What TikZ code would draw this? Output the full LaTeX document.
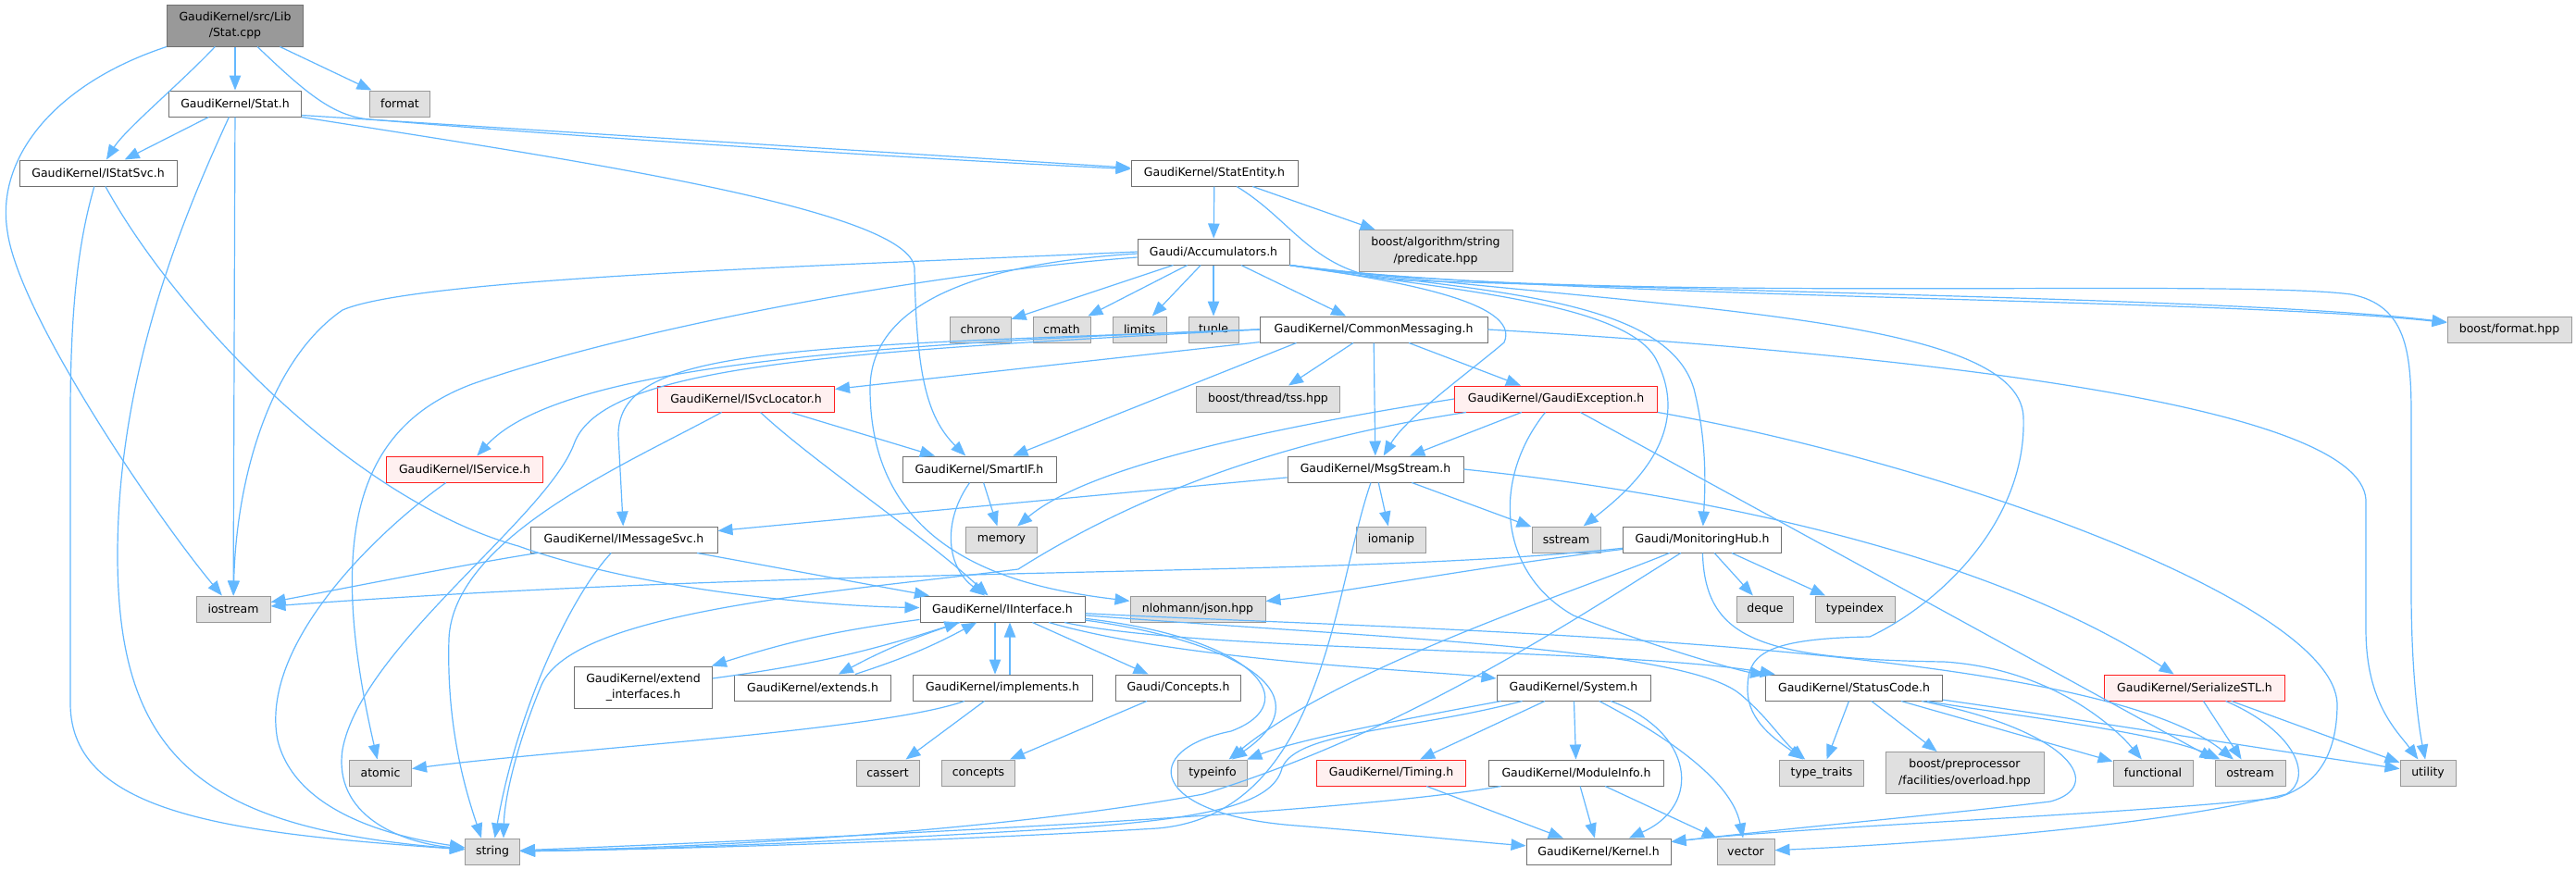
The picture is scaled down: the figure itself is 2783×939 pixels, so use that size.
\documentclass[tikz,border=0pt]{standalone}
\usepackage{fontspec}
\setmainfont{DejaVu Sans}
\usetikzlibrary{arrows.meta,calc}
\definecolor{edgec}{HTML}{63B8FF}
\definecolor{ndborder}{HTML}{707070}
\definecolor{extborder}{HTML}{999999}
\definecolor{extfill}{HTML}{E0E0E0}
\definecolor{redfill}{HTML}{FFF0F0}
\definecolor{redborder}{HTML}{FF2020}
\definecolor{rootfill}{HTML}{999999}
\begin{document}
\begin{tikzpicture}[x=0.5pt,y=-0.5pt,
  every node/.style={font=\fontsize{6.25pt}{8.65pt}\selectfont, inner xsep=2pt, inner ysep=0pt,
    minimum height=14pt, line width=0.5pt, text=black, align=center},
  nd/.style={draw=ndborder, fill=white},
  ext/.style={draw=extborder, fill=extfill},
  redn/.style={draw=redborder, fill=redfill},
  rootn/.style={draw=ndborder, fill=rootfill},
  tall/.style={minimum height=22.5pt},
  edge/.style={draw=edgec, line width=0.6pt, -{Triangle[length=8pt,width=6.2pt]}}]
\useasboundingbox (0,0) rectangle (2783,939);
\fill[white] (0,0) rectangle (2783,939);

% ---------------- nodes ----------------
\node[rootn, tall, minimum width=73.5pt] (statcpp) at (254,27.5) {GaudiKernel/src/Lib\\/Stat.cpp};
\node[nd, minimum width=71.5pt] (stath) at (254,112) {GaudiKernel/Stat.h};
\node[ext, minimum width=32.5pt] (format) at (432,112) {format};
\node[nd, minimum width=85pt] (istatsvc) at (106,187) {GaudiKernel/IStatSvc.h};
\node[nd, minimum width=90pt] (statentity) at (1312,187) {GaudiKernel/StatEntity.h};
\node[nd, minimum width=82pt] (accum) at (1311,272) {Gaudi/Accumulators.h};
\node[ext, tall, minimum width=83pt] (predicate) at (1551,271) {boost/algorithm/string\\/predicate.hpp};
\node[ext, minimum width=67pt] (bformat) at (2711,356) {boost/format.hpp};
\node[ext, minimum width=33pt] (chrono) at (1059,356) {chrono};
\node[ext, minimum width=31pt] (cmath) at (1147,356) {cmath};
\node[ext, minimum width=29pt] (limits) at (1231,356) {limits};
\node[ext, minimum width=27pt] (tuple) at (1311,356) {tuple};
\node[nd, minimum width=123pt] (commsg) at (1484,356) {GaudiKernel/CommonMessaging.h};
\node[redn, minimum width=95.5pt] (isvcloc) at (806,431) {GaudiKernel/ISvcLocator.h};
\node[ext, minimum width=77.5pt] (tss) at (1370,431) {boost/thread/tss.hpp};
\node[redn, minimum width=109.5pt] (gexc) at (1681,431) {GaudiKernel/GaudiException.h};
\node[redn, minimum width=84.5pt] (iservice) at (502,507) {GaudiKernel/IService.h};
\node[nd, minimum width=83pt] (smartif) at (1058,507) {GaudiKernel/SmartIF.h};
\node[nd, minimum width=95pt] (msgstream) at (1486,507) {GaudiKernel/MsgStream.h};
\node[nd, minimum width=101pt] (imsgsvc) at (674,583) {GaudiKernel/IMessageSvc.h};
\node[ext, minimum width=38.5pt] (memory) at (1082,583) {memory};
\node[ext, minimum width=37.5pt] (iomanip) at (1503,583) {iomanip};
\node[ext, minimum width=37pt] (sstream) at (1692,583) {sstream};
\node[nd, minimum width=85.5pt] (monhub) at (1839,583) {Gaudi/MonitoringHub.h};
\node[ext, minimum width=40pt] (iostream) at (252,658) {iostream};
\node[nd, minimum width=89pt] (iinterface) at (1083,658) {GaudiKernel/IInterface.h};
\node[ext, minimum width=73pt] (json) at (1294,658) {nlohmann/json.hpp};
\node[ext, minimum width=30.5pt] (deque) at (1907,658) {deque};
\node[ext, minimum width=43pt] (typeindex) at (2004,658) {typeindex};
\node[nd, tall, minimum width=74.5pt] (extendif) at (695,742.5) {GaudiKernel/extend\\\_interfaces.h};
\node[nd, minimum width=84.5pt] (extends) at (878,743) {GaudiKernel/extends.h};
\node[nd, minimum width=97pt] (implements) at (1083,743) {GaudiKernel/implements.h};
\node[nd, minimum width=67.5pt] (conceptsh) at (1273,743) {Gaudi/Concepts.h};
\node[nd, minimum width=83pt] (system) at (1700,743) {GaudiKernel/System.h};
\node[nd, minimum width=95.5pt] (statuscode) at (2003,743) {GaudiKernel/StatusCode.h};
\node[redn, minimum width=97.5pt] (serialize) at (2371,743) {GaudiKernel/SerializeSTL.h};
\node[ext, minimum width=33.5pt] (atomic) at (411,835) {atomic};
\node[ext, minimum width=34pt] (cassert) at (959,835) {cassert};
\node[ext, minimum width=39.5pt] (conceptsx) at (1057,835) {concepts};
\node[ext, minimum width=37.5pt] (typeinfo) at (1310,835) {typeinfo};
\node[redn, minimum width=80.5pt] (timing) at (1503,835) {GaudiKernel/Timing.h};
\node[nd, minimum width=94.5pt] (moduleinfo) at (1703,835) {GaudiKernel/ModuleInfo.h};
\node[ext, minimum width=45.5pt] (typetraits) at (1968,835) {type\_traits};
\node[ext, tall, minimum width=85.5pt] (overload) at (2122.5,835) {boost/preprocessor\\/facilities/overload.hpp};
\node[ext, minimum width=43pt] (functional) at (2326,835) {functional};
\node[ext, minimum width=38pt] (ostream) at (2431,835) {ostream};
\node[ext, minimum width=30pt] (utility) at (2623,835) {utility};
\node[ext, minimum width=29.5pt] (string) at (532,920) {string};
\node[nd, minimum width=78pt] (kernel) at (1727,920) {GaudiKernel/Kernel.h};
\node[ext, minimum width=31pt] (vector) at (1886,920) {vector};

% ---------------- edges ----------------
% Stat.cpp
\draw[edge] (statcpp) -- (stath);
\draw[edge] (statcpp) -- (format);
\draw[edge] (statcpp) .. controls (195,90) and (135,140) .. (istatsvc);
\draw[edge] (statcpp.south west) .. controls (60,90) and (-5,170) .. (8,250) .. controls (20,340) and (170,560) .. (iostream);
\draw[edge] (statcpp) .. controls (330,100) and (360,126) .. (400,129) .. controls (650,150) and (1000,172) .. (statentity);
% Stat.h
\draw[edge] ($(stath.south east)+(0,-2)$) -- (statentity);
\draw[edge] (stath.south east) .. controls (600,170) and (985,225) .. (988,290) .. controls (990,400) and (1000,450) .. (smartif);
\draw[edge] (stath) -- (istatsvc);
\draw[edge] (stath) .. controls (200,230) and (127,400) .. (127,600) .. controls (127,820) and (220,895) .. (string);
\draw[edge] (stath) -- (iostream);
% IStatSvc
\draw[edge] (istatsvc) .. controls (85,260) and (76,330) .. (76,450) -- (76,760) .. controls (76,880) and (250,900) .. (string);
\draw[edge] (istatsvc) .. controls (190,340) and (380,540) .. (560,590) .. controls (700,640) and (900,655) .. (iinterface);
% StatEntity
\draw[edge] (statentity) -- (accum);
\draw[edge] (statentity) -- (predicate);
\draw[edge] (statentity) .. controls (1400,240) and (1420,300) .. (1520,303) .. controls (2000,318) and (2450,325) .. (bformat);
% Accumulators
\draw[edge] (accum) -- (chrono);
\draw[edge] (accum) -- (cmath);
\draw[edge] (accum) -- (limits);
\draw[edge] (accum) -- (tuple);
\draw[edge] (accum) -- (commsg);
\draw[edge] (accum.west) .. controls (900,287) and (450,300) .. (370,335) .. controls (290,390) and (255,520) .. (iostream);
\draw[edge] ($(accum.west)+(0,6)$) .. controls (1000,295) and (680,355) .. (510,415) .. controls (390,460) and (350,570) .. (atomic);
\draw[edge] ($(accum.west)+(0,2)$) .. controls (1050,285) and (940,330) .. (940,420) .. controls (940,600) and (1100,635) .. (json);
\draw[edge] (accum.south east) .. controls (1500,302) and (1645,325) .. (1625,370) .. controls (1590,400) and (1520,450) .. (msgstream);
\draw[edge] (accum.south east) .. controls (1550,312) and (1760,325) .. (1790,390) .. controls (1830,470) and (1760,530) .. (sstream);
\draw[edge] (accum.south east) .. controls (1600,315) and (1800,320) .. (1830,420) .. controls (1845,480) and (1842,530) .. (monhub);
\draw[edge] (accum.south east) .. controls (1650,322) and (2400,322) .. (bformat);
\draw[edge] (accum.south east) .. controls (1700,330) and (2400,300) .. (2540,318) .. controls (2600,330) and (2605,380) .. (2605,450) -- (2605,640) .. controls (2605,720) and (2612,780) .. (utility);
\draw[edge] (accum.south east) .. controls (1800,335) and (2180,340) .. (2186,450) .. controls (2190,560) and (2100,650) .. (2020,688) .. controls (1900,690) and (1888,710) .. (1888,745) .. controls (1888,780) and (1920,800) .. (typetraits);
% CommonMessaging
\draw[edge] (commsg) -- (isvcloc);
\draw[edge] (commsg.west) .. controls (900,372) and (600,400) .. (iservice);
\draw[edge] (commsg.west) .. controls (850,375) and (668,375) .. (668,470) -- (imsgsvc);
\draw[edge] (commsg.west) .. controls (900,380) and (650,395) .. (620,480) .. controls (590,560) and (390,700) .. (370,810) .. controls (360,880) and (430,910) .. (string);
\draw[edge] ($(commsg.south west)+(40,0)$) -- (smartif);
\draw[edge] (commsg) -- (tss);
\draw[edge] (commsg) -- (msgstream);
\draw[edge] (commsg) -- (gexc);
\draw[edge] (commsg.east) .. controls (2100,385) and (2550,440) .. (2556,540) -- (2556,680) .. controls (2556,760) and (2590,790) .. (utility);
% ISvcLocator
\draw[edge] (isvcloc) -- (smartif);
\draw[edge] (isvcloc) .. controls (880,500) and (1000,580) .. (iinterface);
\draw[edge] (isvcloc) .. controls (680,500) and (490,580) .. (485,690) .. controls (482,790) and (505,860) .. ($(string.north)+(-12,0)$);
% IService
\draw[edge] (iservice) .. controls (400,580) and (280,700) .. (300,800) .. controls (320,880) and (430,905) .. (string);
% SmartIF
\draw[edge] (smartif) -- (memory);
\draw[edge] (smartif) .. controls (1020,560) and (1020,610) .. (iinterface);
% IMessageSvc
\draw[edge] (imsgsvc) -- (iinterface);
\draw[edge] (imsgsvc) .. controls (500,610) and (350,640) .. (iostream);
\draw[edge] (imsgsvc) .. controls (620,640) and (560,760) .. (string);
% MsgStream
\draw[edge] (msgstream) -- (imsgsvc);
\draw[edge] (msgstream) -- (iomanip);
\draw[edge] (msgstream) -- (sstream);
\draw[edge] (msgstream.east) .. controls (1850,535) and (2150,600) .. (serialize);
\draw[edge] (msgstream) .. controls (1440,640) and (1430,880) .. (1250,895) .. controls (1000,910) and (700,918) .. (string);
% GaudiException
\draw[edge] (gexc) -- (msgstream);
\draw[edge] (gexc.west) .. controls (1400,458) and (1180,500) .. (memory);
\draw[edge] (gexc) .. controls (1420,470) and (1250,520) .. (1100,615) .. controls (900,640) and (620,660) .. (585,740) .. controls (560,800) and (545,860) .. ($(string.north)+(12,0)$);
\draw[edge] (gexc) .. controls (1610,520) and (1620,620) .. (1700,665) .. controls (1790,700) and (1880,725) .. (statuscode);
\draw[edge] (gexc) -- (ostream.north west);
\draw[edge] (gexc.south east) .. controls (2100,500) and (2520,650) .. (2525,760) .. controls (2525,820) and (2500,850) .. (2460,862) .. controls (2300,880) and (1950,893) .. ($(kernel.north east)+(0,4)$);
% MonitoringHub
\draw[edge] (monhub) .. controls (1450,625) and (900,610) .. (iostream);
\draw[edge] (monhub) .. controls (1600,612) and (1450,640) .. (json);
\draw[edge] (monhub) -- (deque);
\draw[edge] (monhub) -- (typeindex);
\draw[edge] (monhub) .. controls (1700,640) and (1450,720) .. (typeinfo);
\draw[edge] (monhub) .. controls (1700,670) and (1520,790) .. (1300,858) .. controls (1100,895) and (800,915) .. (string);
\draw[edge] (monhub) .. controls (1842,690) and (1900,712) .. (2100,715) .. controls (2210,722) and (2280,780) .. (functional);
% IInterface
\draw[edge] (iinterface) to[bend right=5] (extendif);
\draw[edge] (extendif) to[bend right=5] (iinterface);
\draw[edge] (iinterface) to[bend right=5] (extends);
\draw[edge] (extends) to[bend right=5] (iinterface);
\draw[edge] ($(iinterface.south)+(-8,0)$) -- ($(implements.north)+(-8,0)$);
\draw[edge] ($(implements.north)+(8,0)$) -- ($(iinterface.south)+(8,0)$);
\draw[edge] (iinterface) -- (conceptsh);
\draw[edge] (iinterface) .. controls (1280,715) and (1550,725) .. (system);
\draw[edge] (iinterface) .. controls (1300,705) and (1750,700) .. (statuscode);
\draw[edge] (iinterface) .. controls (1360,690) and (1410,760) .. (1330,790) .. controls (1230,810) and (1240,880) .. (1400,892) .. controls (1500,900) and (1600,910) .. (kernel);
\draw[edge] (iinterface) .. controls (1320,690) and (1440,745) .. (typeinfo);
\draw[edge] (iinterface) .. controls (1500,690) and (1820,700) .. (1880,750) .. controls (1910,775) and (1925,800) .. (typetraits);
\draw[edge] (iinterface) .. controls (1500,680) and (2250,690) .. (ostream);
% implements / Concepts
\draw[edge] (implements) .. controls (950,790) and (600,810) .. (atomic);
\draw[edge] (implements) -- (cassert);
\draw[edge] (conceptsh) -- (conceptsx);
% System
\draw[edge] (system) -- (timing);
\draw[edge] (system) -- (moduleinfo);
\draw[edge] (system) .. controls (1830,790) and (1840,870) .. (kernel);
\draw[edge] (system) .. controls (1790,790) and (1870,840) .. (vector);
\draw[edge] (system) .. controls (1500,780) and (1400,800) .. (typeinfo);
\draw[edge] (system) .. controls (1520,790) and (1400,790) .. (1385,830) .. controls (1375,870) and (1300,885) .. (1150,895) .. controls (900,910) and (700,918) .. (string);
% Timing / ModuleInfo
\draw[edge] (timing) -- (kernel);
\draw[edge] (moduleinfo) -- (kernel);
\draw[edge] (moduleinfo) -- (vector);
\draw[edge] (moduleinfo) .. controls (1450,880) and (900,905) .. (string);
% StatusCode
\draw[edge] (statuscode) -- (typetraits);
\draw[edge] (statuscode) -- (overload);
\draw[edge] (statuscode) -- (functional);
\draw[edge] (statuscode) .. controls (2150,770) and (2330,790) .. (ostream);
\draw[edge] (statuscode) .. controls (2200,770) and (2450,810) .. (utility);
\draw[edge] (statuscode) .. controls (2240,790) and (2275,850) .. (2215,866) .. controls (2100,880) and (1950,893) .. ($(kernel.north east)+(0,4)$);
% SerializeSTL
\draw[edge] (serialize) -- (ostream);
\draw[edge] (serialize) -- (utility);
\draw[edge] (serialize) .. controls (2480,790) and (2500,840) .. (2470,858) .. controls (2300,900) and (2000,915) .. (vector);
\end{tikzpicture}
\end{document}
